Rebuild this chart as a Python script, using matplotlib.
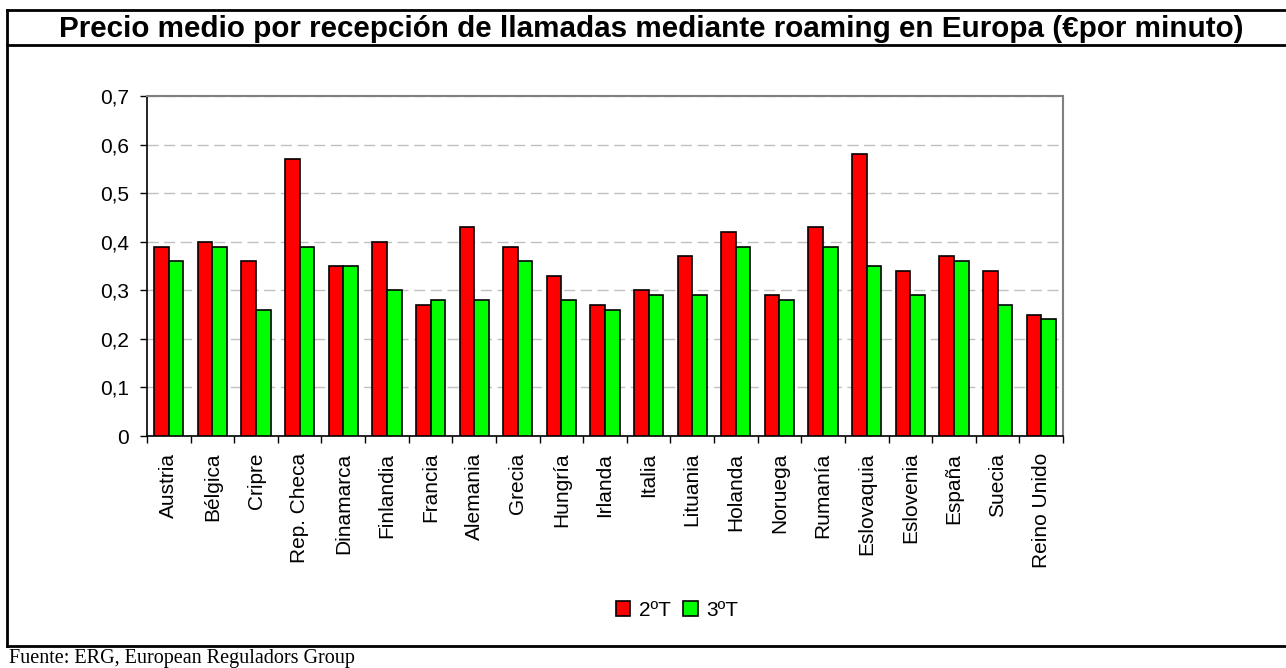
import numpy as np
import matplotlib
matplotlib.use("Agg")
import matplotlib.pyplot as plt
from matplotlib.lines import Line2D

paises = ["Austria", "Bélgica", "Cripre", "Rep. Checa", "Dinamarca", "Finlandia",
          "Francia", "Alemania", "Grecia", "Hungría", "Irlanda", "Italia",
          "Lituania", "Holanda", "Noruega", "Rumanía", "Eslovaquia", "Eslovenia",
          "España", "Suecia", "Reino Unido"]
t2 = [0.39, 0.40, 0.36, 0.57, 0.35, 0.40, 0.27, 0.43, 0.39, 0.33, 0.27,
      0.30, 0.37, 0.42, 0.29, 0.43, 0.58, 0.34, 0.37, 0.34, 0.25]
t3 = [0.36, 0.39, 0.26, 0.39, 0.35, 0.30, 0.28, 0.28, 0.36, 0.28, 0.26,
      0.29, 0.29, 0.39, 0.28, 0.39, 0.35, 0.29, 0.36, 0.27, 0.24]
series = ["2ºT", "3ºT"]

plt.rcParams['font.family'] = ['Liberation Sans', 'DejaVu Sans']

W, H = 1286, 668
fig = plt.figure(figsize=(W / 100, H / 100), dpi=100)

def fx(px):
    return px / W

def fy(py):
    return 1 - py / H

# frame lines (title box + chart box)
for xs, ys in [((7, W), (10, 10)), ((7, W), (45, 45)), ((7, W), (646, 646)),
               ((7, 7), (10, 646))]:
    fig.add_artist(Line2D([fx(x) for x in xs], [fy(y) for y in ys],
                          color='black', lw=2, transform=fig.transFigure))

fig.text(fx(651), fy(29), "Precio medio por recepción de llamadas mediante roaming en Europa (€por minuto)",
         ha='center', va='center', fontsize=21.3, fontweight='bold')
fig.text(fx(9), fy(659), "Fuente: ERG, European Reguladors Group",
         ha='left', va='center', fontsize=14.5, family=['Liberation Serif', 'DejaVu Serif'])

ax = fig.add_axes([fx(147), fy(436), fx(1063) - fx(147), (436 - 96) / H])
x = np.arange(len(paises))
w = 0.335
ax.bar(x - w / 2, t2, w, color='#ff0000', edgecolor='black', linewidth=1.2, label=series[0], zorder=3)
ax.bar(x + w / 2, t3, w, color='#00ff00', edgecolor='black', linewidth=1.2, label=series[1], zorder=3)

ax.set_xlim(-0.5, len(paises) - 0.5)
ax.set_ylim(0, 0.7)
ax.set_yticks(np.arange(0, 0.71, 0.1))
ax.set_yticklabels(["0" if v == 0 else f"{v:.1f}".replace(".", ",") for v in np.arange(0, 0.71, 0.1)],
                   fontsize=15)
ax.set_xticks(x)
ax.set_xticklabels(paises, rotation=90, fontsize=15)
ax.tick_params(axis='x', which='major', length=0, pad=12)
ax.set_xticks(np.arange(-0.5, len(paises), 1), minor=True)
ax.tick_params(axis='x', which='minor', length=5, direction='out', width=1)
ax.tick_params(axis='y', length=5, direction='out', width=1, pad=8)
ax.yaxis.grid(True, color='#c0c0c0', linestyle=(0, (8, 4)), linewidth=1, zorder=0)
ax.set_axisbelow(True)
for s in ['top', 'right']:
    ax.spines[s].set_color('#808080')
    ax.spines[s].set_linewidth(1.5)
for s in ['left', 'bottom']:
    ax.spines[s].set_color('black')
    ax.spines[s].set_linewidth(1.2)

fig.legend(loc='center', bbox_to_anchor=(fx(677), fy(610)), ncol=2, frameon=False,
           fontsize=15, handlelength=0.7, handleheight=0.7, handletextpad=0.4,
           columnspacing=0.6)

fig.savefig("out.png", dpi=100)
